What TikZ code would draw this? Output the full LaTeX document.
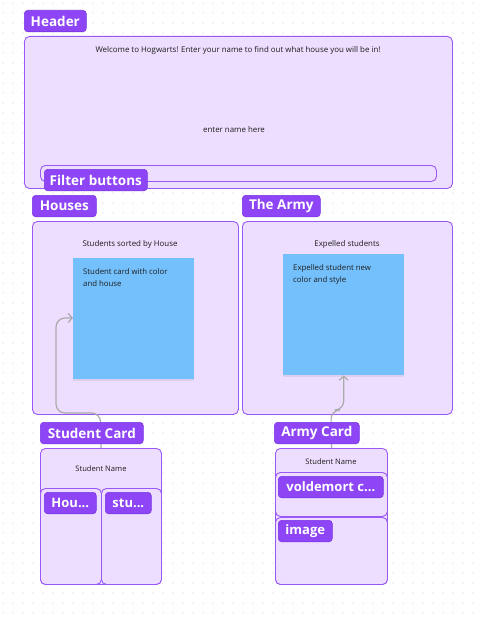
\documentclass[tikz,border=0pt]{standalone}
\usepackage{fontspec}
\setmainfont{Open Sans}
\usetikzlibrary{shadows,arrows.meta}
\definecolor{labfill}{HTML}{8D45F5}
\definecolor{labdraw}{HTML}{7A34E4}
\definecolor{frfill}{HTML}{EDDDFE}
\definecolor{frdraw}{HTML}{9A58F6}
\definecolor{stickyblue}{HTML}{74C0FC}
\definecolor{arrowgray}{HTML}{ABABAB}
\definecolor{dotgray}{HTML}{D2D2D2}
\definecolor{txtcol}{HTML}{1E1E1E}
\tikzset{
  lab/.style={fill=labfill, draw=labdraw, line width=0.6pt, rounded corners=3.5pt,
    text=white, font=\fontsize{13.5}{15}\selectfont\bfseries, anchor=north west,
    minimum height=21.5pt, inner sep=0pt},
  sublab/.style={lab, font=\fontsize{13}{15}\selectfont\bfseries},
  frame/.style={fill=frfill, draw=frdraw, line width=0.9pt, rounded corners=5pt,
    anchor=north west, inner sep=0pt},
  stickynote/.style={fill=stickyblue, anchor=north west, inner sep=0pt,
    drop shadow={opacity=0.15, shadow xshift=0pt, shadow yshift=-1.5pt}},
  txt/.style={text=txtcol, font=\fontsize{7.9}{9}\selectfont, inner sep=0pt},
  smalltxt/.style={txt, font=\fontsize{7.6}{9}\selectfont},
  stxt/.style={text=txtcol, font=\fontsize{7.8}{12}\selectfont, inner sep=0pt,
    anchor=north west, align=left},
  conn/.style={draw=arrowgray, line width=1.2pt, rounded corners=9pt},
  tip/.style={-{Straight Barb[length=4pt,width=9pt]}}
}
\begin{document}
\begin{tikzpicture}[x=1pt,y=-1pt]
\useasboundingbox (0,0) rectangle (482,618);
\fill[white] (0,0) rectangle (482,618);
% dot grid
\foreach \i in {0,...,47} {
  \foreach \j in {0,...,61} {
    \fill[dotgray] (3+10*\i,3+10*\j) circle (0.55pt);
  }
}
% frames
\node[frame, minimum width=428pt, minimum height=152pt] (header) at (24,36) {};
\node[frame, minimum width=396pt, minimum height=16pt] (filterbar) at (40,165) {};
\node[frame, minimum width=206pt, minimum height=193pt] (houses) at (32,221) {};
\node[frame, minimum width=210pt, minimum height=193pt] (army) at (242,221) {};
\node[stickynote, minimum width=121pt, minimum height=121pt] (sticky1) at (73,258) {};
\node[stickynote, minimum width=121pt, minimum height=121pt] (sticky2) at (283,254) {};
\node[frame, minimum width=121pt, minimum height=136pt] (scframe) at (40,448) {};
\node[frame, minimum width=61pt, minimum height=96pt] (scleft) at (40,488) {};
\node[frame, minimum width=60pt, minimum height=96pt] (scright) at (101,488) {};
\node[frame, minimum width=112pt, minimum height=136pt] (acframe) at (275,448) {};
\node[frame, minimum width=112pt, minimum height=44pt] (acsub1) at (275,472) {};
\node[frame, minimum width=112pt, minimum height=67pt] (acsub2) at (275,517) {};
% texts
\node[txt] (welcome) at (238,50) {Welcome to Hogwarts! Enter your name to find out what house you will be in!};
\node[txt] (entername) at (234,130) {enter name here};
\node[txt] (sorted) at (130,244) {Students sorted by House};
\node[txt] (expelled) at (347,244) {Expelled students};
\node[stxt] (s1text) at (83,268) {Student card with color\\and house};
\node[stxt] (s2text) at (293,264) {Expelled student new\\color and style};
\node[smalltxt] (scname) at (101,469) {Student Name};
\node[smalltxt] (acname) at (331,462) {Student Name};
% connectors
\coordinate (k1) at (56,318);
\draw[conn, tip] (scframe.north) -- (100.5,413) -- (56,413) -- (56,318) -- (sticky1.west |- k1);
\draw[conn, tip] (acframe.north) -- (331,410) -| (sticky2.south);
% labels
\node[lab, minimum width=62pt] (hdrlab) at (24,10) {Header};
\node[lab, minimum width=103pt] (filterlab) at (44,169) {Filter buttons};
\node[lab, minimum width=64pt] (houseslab) at (32,195) {Houses};
\node[lab, minimum width=78pt] (armylab) at (242,195) {The Army};
\node[lab, minimum width=103pt] (sclab) at (40,422) {Student Card};
\node[lab, minimum width=85pt] (aclab) at (274,422) {Army Card};
\node[sublab, minimum width=52pt] (houlab) at (44,492) {Hou...};
\node[sublab, minimum width=46pt] (stulab) at (105,492) {stu...};
\node[sublab, minimum width=105pt] (voldlab) at (278,476) {voldemort c...};
\node[sublab, minimum width=54pt] (imglab) at (278,520) {image};
\end{tikzpicture}
\end{document}
